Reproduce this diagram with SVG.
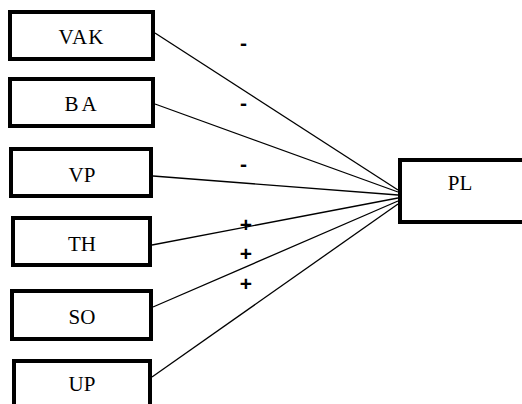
<svg xmlns="http://www.w3.org/2000/svg" width="522" height="404" viewBox="0 0 522 404">
<style>
.box{fill:#fff;stroke:#000;stroke-width:4}
.lbl{font-family:'Liberation Serif','Times New Roman',serif;font-size:21px;fill:#000;text-anchor:middle}
.sign{font-family:'Liberation Sans',Arial,sans-serif;font-size:21px;font-weight:bold;fill:#000;text-anchor:middle}
.edge{stroke:#000;stroke-width:1.3;fill:none}
</style>
<rect width="522" height="404" fill="#fff"/>
<g id="connectors">
<line class="edge" x1="155" y1="33" x2="398" y2="190"/>
<line class="edge" x1="155" y1="104" x2="398" y2="192"/>
<line class="edge" x1="153" y1="176" x2="398" y2="195"/>
<line class="edge" x1="152" y1="245" x2="398" y2="198"/>
<line class="edge" x1="153" y1="307" x2="398" y2="201"/>
<line class="edge" x1="152" y1="377" x2="398" y2="204"/>
</g>
<g id="VAK"><rect class="box" x="10" y="12" width="143" height="47"/><text class="lbl" x="81.5" y="44" letter-spacing="1">VAK</text></g>
<g id="BA"><rect class="box" x="10" y="79" width="143" height="47"/><text class="lbl" x="82" y="111" letter-spacing="3">BA</text></g>
<g id="VP"><rect class="box" x="11" y="149" width="140" height="47"/><text class="lbl" x="82" y="182">VP</text></g>
<g id="TH"><rect class="box" x="13" y="218" width="137" height="47"/><text class="lbl" x="82" y="251">TH</text></g>
<g id="SO"><rect class="box" x="12" y="291" width="139" height="48"/><text class="lbl" x="82" y="324">SO</text></g>
<g id="UP"><rect class="box" x="14" y="361" width="136" height="60"/><text class="lbl" x="82" y="391">UP</text></g>
<g id="PL"><rect x="400" y="160" width="122" height="62" fill="#fff"/><path d="M530,160 H400 V222 H530" fill="none" stroke="#000" stroke-width="4"/><text class="lbl" x="460" y="190">PL</text></g>
<g id="signs">
<text class="sign" x="243.5" y="50">-</text>
<text class="sign" x="243.5" y="110">-</text>
<text class="sign" x="243.5" y="171">-</text>
<text class="sign" x="246" y="232">+</text>
<text class="sign" x="246" y="261">+</text>
<text class="sign" x="246" y="291">+</text>
</g>
</svg>
